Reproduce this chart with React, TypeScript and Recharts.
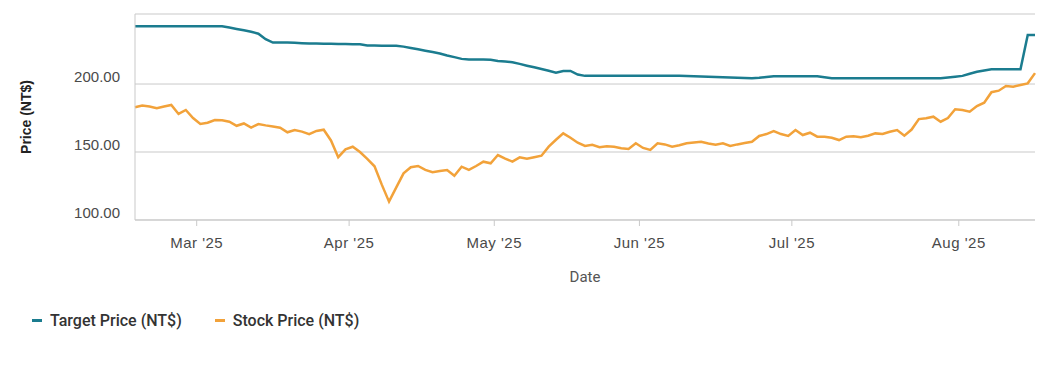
import {
  LineChart,
  Line,
  XAxis,
  YAxis,
  CartesianGrid,
  Legend,
} from "recharts";

// trading days (TWSE), Feb 17 – Aug 15 2025
const tradingDays: [string, number[]][] = [
  ["Feb", [17, 18, 19, 20, 21, 24, 25, 26, 27]],
  ["Mar", [3, 4, 5, 6, 7, 10, 11, 12, 13, 14, 17, 18, 19, 20, 21, 24, 25, 26, 27, 28, 31]],
  ["Apr", [1, 2, 7, 8, 9, 10, 11, 14, 15, 16, 17, 18, 21, 22, 23, 24, 25, 28, 29, 30]],
  ["May", [2, 5, 6, 7, 8, 9, 12, 13, 14, 15, 16, 19, 20, 21, 22, 23, 26, 27, 28, 29]],
  ["Jun", [2, 3, 4, 5, 6, 9, 10, 11, 12, 13, 16, 17, 18, 19, 20, 23, 24, 25, 26, 27, 30]],
  ["Jul", [1, 2, 3, 4, 7, 8, 9, 10, 11, 14, 15, 16, 17, 18, 21, 22, 23, 24, 25, 28, 29, 30, 31]],
  ["Aug", [1, 4, 5, 6, 7, 8, 11, 12, 13, 14, 15]],
];

const targetPrice = [
  242.5, 242.5, 242.5, 242.5, 242.5, 242.5, 242.5, 242.5, 242.5, 242.5,
  242.5, 242.5, 242.5, 241.5, 240.5, 239.5, 238.5, 237, 233, 230.5,
  230.5, 230.5, 230.3, 230, 229.8, 229.8, 229.7, 229.6, 229.5, 229.4,
  229.3, 229.2, 228.3, 228.3, 228.2, 228.2, 228.2, 227.5, 226.5, 225.5,
  224.5, 223.5, 222.5, 221, 219.8, 218.5, 218, 218, 218, 217.8,
  217, 216.5, 216, 214.8, 213.5, 212.3, 211, 209.8, 208.3, 209.6,
  209.6, 207, 206, 206, 206, 206, 206, 206, 206, 206,
  206, 206, 206, 206, 206, 206, 205.9, 205.8, 205.6, 205.4,
  205.2, 205, 204.8, 204.6, 204.4, 204.3, 204.6, 205.2, 205.8, 205.8,
  205.8, 205.8, 205.8, 205.8, 205.8, 205, 204.3, 204.3, 204.3, 204.3,
  204.3, 204.3, 204.3, 204.3, 204.3, 204.3, 204.3, 204.3, 204.3, 204.3,
  204.3, 204.3, 204.8, 205.4, 206, 207.5, 209, 210, 210.8, 210.8,
  210.8, 210.8, 210.8, 236, 236,
];

const stockPrice = [
  182.9, 184.2, 183.5, 182.2, 183.5, 184.6, 178, 180.9, 175, 170.6,
  171.5, 173.5, 173.3, 172.3, 169.3, 171.0, 168.0, 170.6, 169.6, 168.8,
  167.9, 164.5, 166.2, 165.0, 163.2, 165.5, 166.4, 158.5, 146.2, 152.0,
  153.9, 150.0, 145.0, 139.5, 126.0, 113.5, 124.0, 134.3, 138.8, 139.7,
  136.8, 135.2, 136.0, 136.8, 132.6, 139.2, 136.8, 139.7, 142.9, 141.7,
  147.8, 145.2, 142.9, 146.1, 145.0, 146.2, 147.3, 153.9, 159.0, 163.7,
  160.5, 156.8, 154.5, 155.3, 153.6, 154.2, 153.8, 152.8, 152.2, 156.4,
  153.0, 151.5, 156.4, 155.6, 153.9, 155.0, 156.4, 157.0, 157.6, 156.3,
  155.4, 156.4, 154.4, 155.6, 156.6, 157.5, 161.8, 163.2, 165.4, 163.2,
  161.8, 166.2, 162.5, 164.2, 161.3, 161.3, 160.5, 158.8, 161.3, 161.6,
  160.8, 162.0, 163.7, 163.2, 164.9, 166.2, 162.0, 166.5, 174.2, 174.8,
  176.0, 172.3, 175.0, 181.4, 180.9, 179.7, 183.8, 186.3, 194.0, 195.1,
  198.5, 198.0, 199.3, 200.5, 208.0,
];

const yTicks = [100, 150, 200];
const seriesNames = ["Target Price (NT$)", "Stock Price (NT$)"];

const TEAL = "#1b7c8f";
const ORANGE = "#f2a23a";
const GRID = "#c9c9c9";

const data = tradingDays
  .flatMap(([m, days]) => days.map((d) => `${m} ${d}`))
  .map((date, i) => ({ i, date, target: targetPrice[i], stock: stockPrice[i] }));

// month ticks sit between the last trading day of one month and the first of the next
const monthTicks: number[] = [];
const monthLabels: Record<string, string> = {};
let count = 0;
tradingDays.forEach(([m, days], k) => {
  if (k > 0) {
    monthTicks.push(count - 0.5);
    monthLabels[String(count - 0.5)] = `${m} '25`;
  }
  count += days.length;
});

const YTick = (props: any) => (
  <text
    x={112}
    y={props.y - 8}
    textAnchor="end"
    dominantBaseline="central"
    fontFamily="Liberation Sans, Arial, sans-serif"
    fontSize={15}
    fill="#4a4a4a"
  >
    {props.payload.value.toFixed(2)}
  </text>
);

const XTick = (props: any) => (
  <text
    x={props.x}
    y={234}
    textAnchor="middle"
    dominantBaseline="central"
    fontFamily="Liberation Sans, Arial, sans-serif"
    fontSize={15}
    letterSpacing={0.5}
    fill="#4a4a4a"
  >
    {monthLabels[String(props.payload.value)]}
  </text>
);

const YLabel = (props: any) => {
  const cy = props.viewBox.y + props.viewBox.height / 2;
  return (
    <text
      x={18}
      y={cy}
      transform={`rotate(-90, 18, ${cy})`}
      textAnchor="middle"
      dominantBaseline="central"
      fontFamily="Liberation Sans, Arial, sans-serif"
      fontWeight="bold"
      fontSize={14}
      fill="#222"
    >
      Price (NT$)
    </text>
  );
};

const XLabel = (props: any) => (
  <text
    x={props.viewBox.x + props.viewBox.width / 2}
    y={269}
    textAnchor="middle"
    dominantBaseline="central"
    fontFamily="Roboto, sans-serif"
    fontSize={15}
    fill="#555"
  >
    Date
  </text>
);

const LegendContent = (props: any) => {
  const items = [...props.payload].sort(
    (a: any, b: any) => seriesNames.indexOf(a.value) - seriesNames.indexOf(b.value)
  );
  return (
    <div style={{ display: "flex", height: 20, alignItems: "center", fontFamily: "Roboto, sans-serif", fontSize: 16, fontWeight: 500, color: "#333" }}>
      {items.map((p: any) => (
        <div key={p.value} style={{ display: "flex", alignItems: "center", marginRight: 33 }}>
          <span style={{ display: "inline-block", width: 10, height: 3, background: p.color, marginRight: 8 }} />
          {p.value}
        </div>
      ))}
    </div>
  );
};

export default function App() {
  return (
    <LineChart width={1042} height={360} data={data} margin={{ top: 6, right: 15, left: 0, bottom: 38 }}>
      <CartesianGrid vertical={false} stroke={GRID} />
      <XAxis
        dataKey="i"
        type="number"
        domain={[0, data.length - 1]}
        ticks={monthTicks}
        tick={<XTick />}
        tickSize={6}
        tickLine={{ stroke: GRID }}
        axisLine={{ stroke: GRID }}
        height={90}
        interval={0}
        label={<XLabel />}
      />
      <XAxis xAxisId="top" orientation="top" height={0} tick={false} tickLine={false} axisLine={{ stroke: GRID }} />
      <YAxis
        domain={[100, 251.5]}
        ticks={yTicks}
        tick={<YTick />}
        tickLine={false}
        axisLine={{ stroke: GRID }}
        width={127}
        label={<YLabel />}
      />
      <YAxis yAxisId="r" orientation="right" width={0} tick={false} tickLine={false} axisLine={{ stroke: GRID }} />
      <Legend verticalAlign="bottom" align="left" content={<LegendContent />} wrapperStyle={{ left: 24 }} />
      <Line
        dataKey="target"
        name={seriesNames[0]}
        stroke={TEAL}
        strokeWidth={2.5}
        dot={false}
        isAnimationActive={false}
      />
      <Line
        dataKey="stock"
        name={seriesNames[1]}
        stroke={ORANGE}
        strokeWidth={2.5}
        dot={false}
        isAnimationActive={false}
      />
    </LineChart>
  );
}
